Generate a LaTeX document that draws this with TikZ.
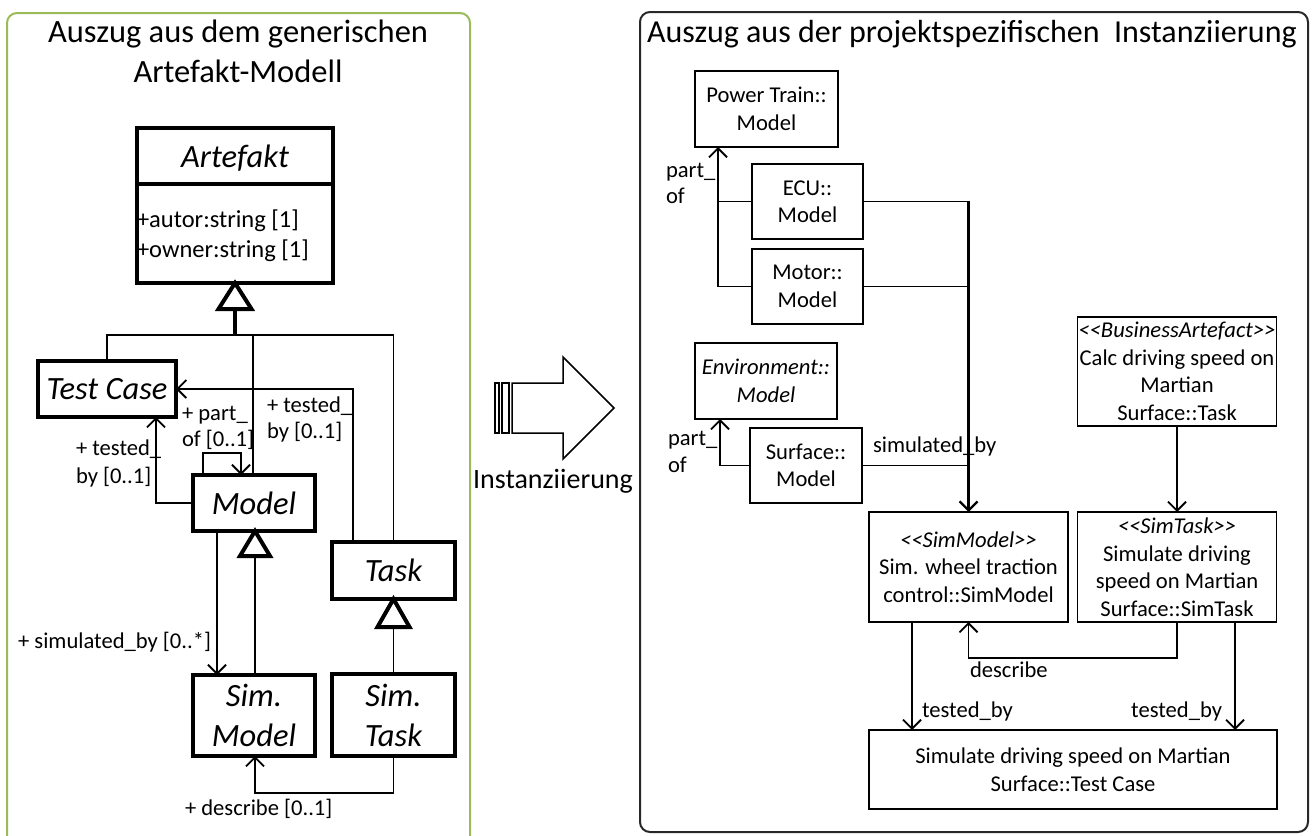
\documentclass[tikz,border=0pt]{standalone}
\usepackage{fontspec}
\setmainfont{Carlito}
\usetikzlibrary{arrows.meta}
\definecolor{panelgreen}{RGB}{155,187,89}
\definecolor{panelgray}{RGB}{40,40,40}
\newcommand\fsmall{\fontsize{22.6}{27.5}\selectfont}
\newcommand\fattr{\fontsize{24.5}{30}\selectfont}
\newcommand\fbig{\fontsize{32.5}{40}\selectfont\itshape}
\newcommand\ftitle{\fontsize{32.5}{40}\selectfont}
\begin{document}
\begin{tikzpicture}[x=1pt,y=-1pt,
  every node/.style={inner sep=0pt, outer sep=0pt},
  classbox/.style={draw, line width=4pt, align=center, font=\fbig},
  instbox/.style={draw, line width=1.8pt, align=center, font=\fsmall},
  conn/.style={line width=1.8pt},
  assoc/.style={conn, -{Straight Barb[length=9pt,width=18pt]}},
  gentri/.style={line width=4pt, fill=white, line join=miter},
  lbl/.style={anchor=base west, font=\fsmall},
  lblr/.style={anchor=base east, font=\fsmall}]
\useasboundingbox (0,0) rectangle (1314,835);
\fill[white] (0,0) rectangle (1314,835);
\clip (0,0) rectangle (1314,835);

% ---------- panels ----------
\draw[panelgreen, line width=2pt, rounded corners=10pt] (7,13) rectangle (470,870);
\draw[panelgray, line width=2pt, rounded corners=10pt] (640,12) rectangle (1308,832);
\node[anchor=base, font=\ftitle] (ltitleA) at (238,42) {Auszug aus dem generischen};
\node[anchor=base, font=\ftitle] (ltitleB) at (238,82) {Artefakt-Modell};
\node[anchor=base west, font=\fontsize{32}{40}\selectfont] (rtitle) at (647,42) {Auszug aus der projektspezifischen\ \ Instanziierung};

% ---------- generic artefact model ----------
\node[classbox, minimum width=196pt, minimum height=155pt] (art) at (235,205.5) {};
\draw[line width=4pt] ([yshift=-56pt]art.north west) -- ([yshift=-56pt]art.north east);
\node[anchor=base, font=\fbig] (artname) at (235,167) {Artefakt};
\node[anchor=base west, font=\fattr] (attrA) at (137,227) {+autor:string [1]};
\node[anchor=base west, font=\fattr] (attrB) at (137,257) {+owner:string [1]};

\node[classbox, minimum width=138pt, minimum height=56pt] (tc) at (107,389) {Test Case};
\node[classbox, minimum width=122pt, minimum height=56pt] (model) at (254,503) {Model};
\node[classbox, minimum width=122pt, minimum height=81pt] (simmodel) at (254,715.5) {Sim.\\Model};
\node[classbox, minimum width=123pt, minimum height=57pt] (task) at (393.5,570.5) {Task};
\node[classbox, minimum width=123pt, minimum height=82pt] (simtask) at (393.5,715) {Sim.\\Task};

% generalisation to Artefakt
\draw[gentri] (art.south) -- ++(-16.5,26) -- ++(33,0) -- cycle;
\draw[line width=4pt] ([yshift=-26pt]art.south) -- ([yshift=-52pt]art.south) coordinate (hub);
\draw[conn] (tc.north) |- (hub);
\draw[conn] (hub) -| (task.north);
\draw[conn] (hub) -| ([xshift=-1pt]model.north);

% associations towards Test Case
\draw[assoc] (model.west) -| ([xshift=-20pt]tc.south east);
\draw[assoc] ([xshift=-40.5pt]task.north) |- (tc.east);
\node[lbl] (lbTA) at (76,455) {+ tested\_};
\node[lbl] (lbTB) at (76,483) {by [0..1]};
\node[lbl] (lbTC) at (267,412) {+ tested\_};
\node[lbl] (lbTD) at (267,438) {by [0..1]};

% part_of self association
\draw[assoc] ([xshift=-51pt]model.north) -- ++(0,-22) -| ([xshift=-13pt]model.north);
\node[lbl] (lbPA) at (182,420) {+ part\_};
\node[lbl] (lbPB) at (182,446) {of [0..1]};

% simulated_by
\draw[assoc] ([xshift=-37pt]model.south) -- ([xshift=-37pt]simmodel.north);
\node[lblr] (lbS) at (211,648) {+ simulated\_by [0..*]};

% generalisations Sim. Model -> Model, Sim. Task -> Task
\draw[gentri] ([xshift=1pt]model.south) -- ++(-15,25) -- ++(30,0) -- cycle;
\draw[conn] ([xshift=1pt]simmodel.north) -- ([xshift=1pt,yshift=-25pt]model.south);
\draw[gentri] (task.south) -- ++(-16,28) -- ++(32,0) -- cycle;
\draw[conn] (simtask.north) -- ([yshift=-28pt]task.south);

% describe
\draw[assoc] (simtask.south) -- ++(0,37) -| ([xshift=1pt]simmodel.south);
\node[lbl] (lbD) at (185,815) {+ describe [0..1]};

% ---------- instantiation arrow ----------
\draw[line width=1.5pt, line join=miter] (512,383) -- (563,383) -- (563,357) -- (614,408)
  -- (563,459) -- (563,433) -- (512,433) -- cycle;
\draw[line width=1.5pt] (495,383) rectangle (499,433);
\draw[line width=1.5pt] (502,383) rectangle (509,433);
\node[anchor=base, font=\fontsize{28}{32}\selectfont] (instlbl) at (553,488) {Instanziierung};

% ---------- project specific instantiation ----------
\node[instbox, minimum width=143pt, minimum height=76pt] (pt) at (766.5,109) {Power Train::\\Model};
\node[instbox, minimum width=111pt, minimum height=75pt] (ecu) at (807.5,201.5) {ECU::\\Model};
\node[instbox, minimum width=111pt, minimum height=75pt] (motor) at (807.5,286.5) {Motor::\\Model};
\node[instbox, minimum width=142pt, minimum height=76pt, font=\fsmall\itshape] (env) at (766,381) {Environment::\\Model};
\node[instbox, minimum width=112pt, minimum height=75pt] (surf) at (806,465.5) {Surface::\\Model};
\node[instbox, minimum width=199pt, minimum height=109pt] (ba) at (1177,371.5)
  {\textit{<{}<BusinessArtefact>{}>}\\Calc driving speed on\\Martian\\Surface::Task};
\node[instbox, minimum width=199pt, minimum height=110pt] (simm) at (968.5,567)
  {\textit{<{}<SimModel>{}>}\\Sim. wheel traction\\control::SimModel};
\node[instbox, minimum width=199pt, minimum height=110pt] (simt) at (1177,567)
  {\textit{<{}<SimTask>{}>}\\Simulate driving\\speed on Martian\\Surface::SimTask};
\node[instbox, minimum width=408pt, minimum height=79pt] (tcase) at (1073,769.5)
  {Simulate driving speed on Martian\\Surface::Test Case};

% part_of links
\draw[assoc] (motor.west) -| ([xshift=-48.5pt]pt.south);
\draw[conn] (ecu.west) -- ++(-34,0);
\node[lbl] (lbRPA) at (666,177) {part\_};
\node[lbl] (lbRPB) at (666,203) {of};
\draw[assoc] (surf.west) -| ([xshift=-46pt]env.south);
\node[lbl] (lbRPC) at (668,445) {part\_};
\node[lbl] (lbRPD) at (668,472) {of};

% simulated_by links
\draw[conn] (ecu.east) -- (ecu.east -| simm.north) coordinate (simtop);
\draw[assoc, line width=2.3pt] ([yshift=0.9pt]simtop) -- (simm.north);
\draw[conn] (motor.east) -- (motor.east -| simm.north);
\draw[conn] (surf.east) -- (surf.east -| simm.north);
\node[lbl] (lbRS) at (873,452) {simulated\_by};

% task refinement
\draw[assoc] (ba.south) -- (simt.north);

% describe
\draw[assoc] (simt.south) -- ++(0,36) -| (simm.south);
\node[lbl] (lbRD) at (970,677) {describe};

% tested_by
\draw[assoc] ([xshift=-56.5pt]simm.south) coordinate (tbA) -- (tbA |- tcase.north);
\draw[assoc] ([xshift=58pt]simt.south) coordinate (tbB) -- (tbB |- tcase.north);
\node[lbl] (lbRTA) at (922,717) {tested\_by};
\node[lblr] (lbRTB) at (1222,717) {tested\_by};
\end{tikzpicture}
\end{document}
